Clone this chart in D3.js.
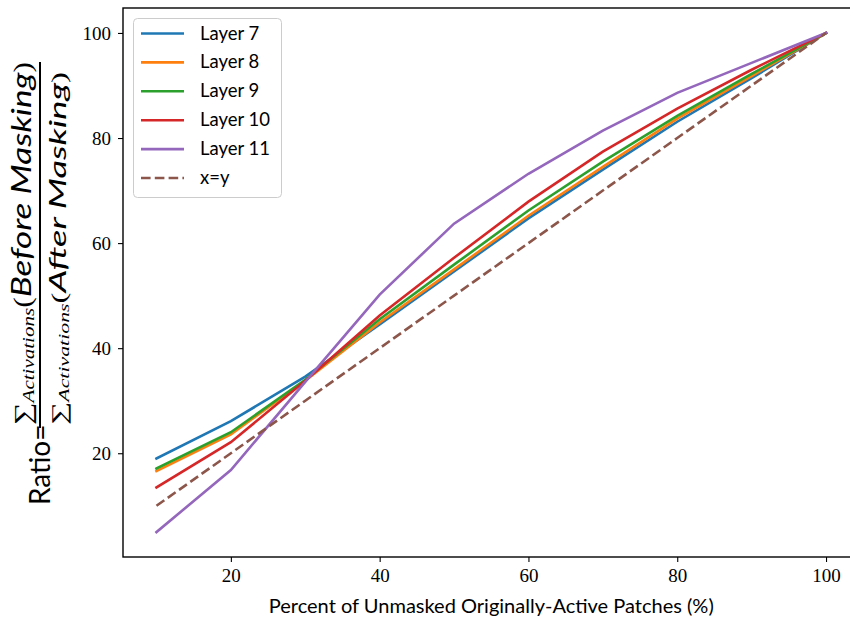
<!DOCTYPE html>
<html><head><meta charset="utf-8">
<script src="https://cdn.jsdelivr.net/npm/d3@7"></script>
<style>body{margin:0;background:#fff}svg{display:block}</style>
</head><body>
<svg id="c" width="850" height="626"></svg>
<script>
const xValues = [10,20,30,40,50,60,70,80,90,100];
const layer7  = [19.0,26.1,34.6,44.5,54.6,64.7,74.0,83.1,91.4,100];
const layer8  = [16.6,23.6,33.8,44.9,55.0,65.2,74.5,83.7,91.8,100];
const layer9  = [17.1,24.0,34.0,45.5,55.9,66.2,75.5,84.2,92.2,100];
const layer10 = [13.5,22.1,33.8,46.2,57.2,67.9,77.4,85.6,93.0,100];
const layer11 = [5.0,16.8,33.6,50.2,63.7,73.2,81.4,88.6,94.3,100];
const identity = [10,20,30,40,50,60,70,80,90,100];
const seriesNames = ["Layer 7","Layer 8","Layer 9","Layer 10","Layer 11","x=y"];
const seriesValues = [layer7,layer8,layer9,layer10,layer11,identity];
const colors = ["#1f77b4","#ff7f0e","#2ca02c","#d62728","#9467bd","#8c564b"];
const xTicks = [20,40,60,80,100];
const yTicks = [20,40,60,80,100];

const svg = d3.select("#c");
const L=123, R=859.5, T=8, B=557;
const x = d3.scaleLinear().domain([5.5,104.5]).range([L,R]);
const y = d3.scaleLinear().domain([0.25,104.75]).range([B,T]);

svg.append("defs").append("clipPath").attr("id","pc").append("rect")
  .attr("x",L).attr("y",T).attr("width",R-L).attr("height",B-T);

const line = d3.line().x((d,i)=>x(xValues[i])).y(d=>y(d));
const plot = svg.append("g").attr("clip-path","url(#pc)");
seriesValues.forEach((vals,k)=>{
  plot.append("path").datum(vals).attr("d",line).attr("fill","none")
    .attr("stroke",colors[k]).attr("stroke-width",2.6)
    .attr("stroke-dasharray", k===5 ? "9.6,4.2" : null)
    .attr("stroke-linecap", k===5 ? "butt" : "square");
});

// axes
const xAxis = svg.append("g").attr("transform",`translate(0,${B})`)
  .call(d3.axisBottom(x).tickValues(xTicks).tickSize(5).tickPadding(7).tickFormat(d3.format("d")));
const yAxis = svg.append("g").attr("transform",`translate(${L},0)`)
  .call(d3.axisLeft(y).tickValues(yTicks).tickSize(5).tickPadding(7).tickFormat(d3.format("d")));
[xAxis,yAxis].forEach(a=>{
  a.select(".domain").remove();
  a.selectAll(".tick line").attr("stroke","#000").attr("stroke-width",1.1);
  a.selectAll(".tick text").attr("fill","#000").style("font-family","'Liberation Serif',serif").style("font-size","19px");
});
// spines
svg.append("rect").attr("x",L).attr("y",T).attr("width",R-L).attr("height",B-T)
  .attr("fill","none").attr("stroke","#000").attr("stroke-width",1.4);

// x label
svg.append("text").attr("x",(L+R)/2).attr("y",613).attr("text-anchor","middle")
  .style("font-family","Lato, sans-serif").style("font-size","19px").attr("fill","#000")
  .attr("textLength",445).attr("lengthAdjust","spacingAndGlyphs")
  .text("Percent of Unmasked Originally-Active Patches (%)");

// y label (rotated)
const yl = svg.append("g").attr("transform","rotate(-90)");
yl.append("text").attr("x",-505).attr("y",50)
  .style("font-family","Lato, sans-serif").style("font-size","28px").attr("fill","#000").text("Ratio=");
yl.append("line").attr("x1",-428).attr("x2",-62).attr("y1",40).attr("y2",40).attr("stroke","#000").attr("stroke-width",2);
function frac(main, u0, u1, v, big){
  const t = yl.append("text").attr("x",u0).attr("y",v).attr("fill","#000");
  t.append("tspan").style("font-family","'Liberation Serif',serif").style("font-size",big*0.9+"px").text("∑");
  t.append("tspan").attr("dy",big*0.12).style("font-family","'Liberation Serif',serif").style("font-style","italic").style("font-size",big*0.6+"px").text("Activations");
  t.append("tspan").attr("dy",-big*0.12).style("font-family","'Liberation Serif',serif").style("font-size",big*0.9+"px").text("(");
  t.append("tspan").style("font-family","Lato, sans-serif").style("font-style","italic").style("font-size",big+"px").text(main);
  t.append("tspan").style("font-family","'Liberation Serif',serif").style("font-size",big*0.9+"px").text(")");
  t.attr("textLength",u1-u0).attr("lengthAdjust","spacingAndGlyphs");
}
frac("Before Masking",-425,-62,31,27);
frac("After Masking",-425,-72,66,23);

// legend
const lg = svg.append("g");
lg.append("rect").attr("x",133.5).attr("y",18.5).attr("width",148).attr("height",179).attr("rx",4)
  .attr("fill","#fff").attr("fill-opacity",0.8).attr("stroke","#cccccc").attr("stroke-width",1);
seriesNames.forEach((n,k)=>{
  const cy = 33.5 + k*28.9;
  lg.append("line").attr("x1",141).attr("x2",184).attr("y1",cy).attr("y2",cy)
    .attr("stroke",colors[k]).attr("stroke-width",2.6)
    .attr("stroke-dasharray",k===5?"9.6,4.2":null);
  lg.append("text").attr("x",200).attr("y",cy+6).style("font-family","Lato, sans-serif")
    .style("font-size","18.5px").attr("fill","#000").text(n);
});
</script>
</body></html>
